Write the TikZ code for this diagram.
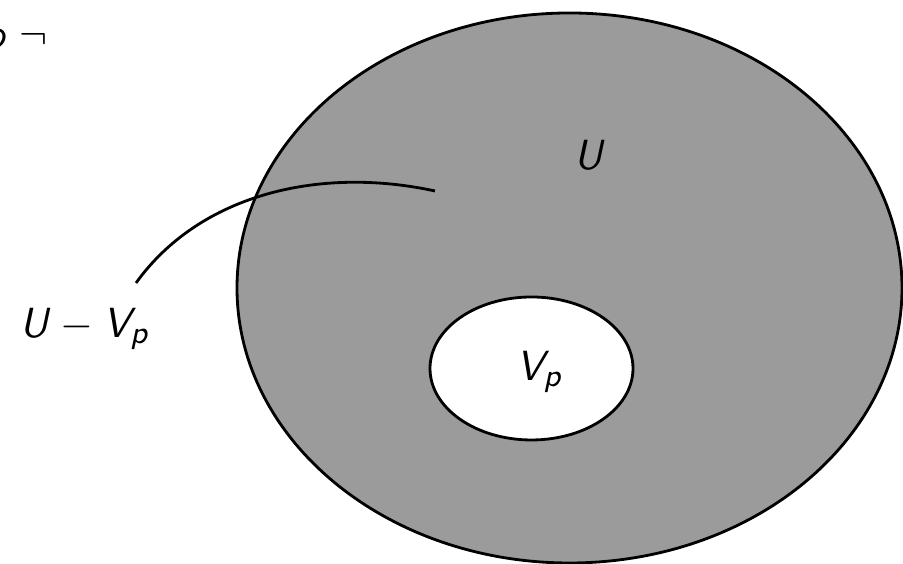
\documentclass[tikz,border=0pt]{standalone}
\DeclareMathAlphabet{\mathsfit}{OT1}{cmss}{m}{sl}
\definecolor{setgray}{RGB}{155,155,155}
\tikzset{
  setline/.style={draw=black, thick},
  setlabel/.style={font=\fontsize{13}{16}\selectfont, inner sep=0pt},
}
\begin{document}
\begin{tikzpicture}

\useasboundingbox (0,0) rectangle (9.03,5.64);

\def\cx{5.695}
\def\cy{2.76}

%==== U and V_p ====
\fill[setgray, setline] (\cx,\cy) ellipse [x radius=3.325, y radius=2.75];
\fill[white, setline] (5.315,1.955) ellipse [x radius=1.015, y radius=0.715];

\node[setlabel] (u) at (5.90,4.09) {$\mathsfit{U}$};
\node[setlabel] (vp) at (5.40,1.92) {$\mathsfit{V}_{\mathsfit{p}}$};

%==== U - V_p with its pointer ====
\node[setlabel] (diff) at (0.85,2.35) {$\mathsfit{U}-\mathsfit{V}_{\mathsfit{p}}$};
\coordinate (tail) at (1.36,2.81);
\coordinate (tip) at (4.35,3.73);
\draw[thick] (tail) .. controls (2.0,3.7) and (3.2,3.98) .. (tip);

%==== cut-off text at the top ====
\node[setlabel, anchor=base east] (cut) at (0.48,5.15) {$\mathsfit{o}\;\neg$};

\end{tikzpicture}
\end{document}
